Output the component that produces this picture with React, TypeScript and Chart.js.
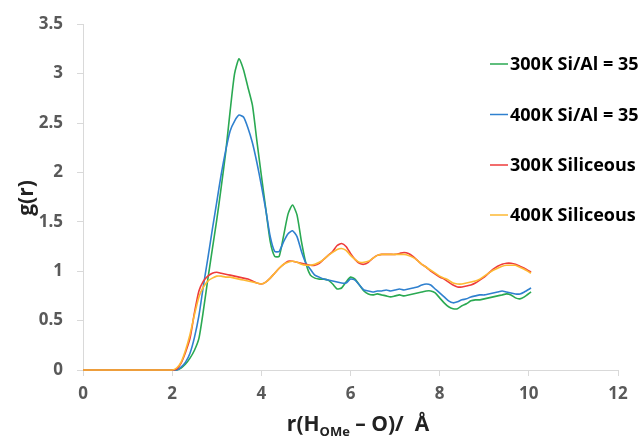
import React, { useEffect, useRef } from 'react';
import { Chart, registerables } from 'chart.js';

Chart.register(...registerables);

// r in Angstrom
const rValues = [
  0, 2.0, 2.1, 2.2, 2.3, 2.4, 2.5, 2.6, 2.7, 2.8, 2.9,
  3.0, 3.1, 3.2, 3.3, 3.4, 3.5, 3.6, 3.7, 3.8, 3.9,
  4.0, 4.1, 4.2, 4.3, 4.4, 4.5, 4.6, 4.7, 4.8, 4.9,
  5.0, 5.1, 5.2, 5.3, 5.4, 5.5, 5.6, 5.7, 5.8, 5.9,
  6.0, 6.1, 6.2, 6.3, 6.4, 6.5, 6.6, 6.7, 6.8, 6.9,
  7.0, 7.1, 7.2, 7.3, 7.4, 7.5, 7.6, 7.7, 7.8, 7.9,
  8.0, 8.1, 8.2, 8.3, 8.4, 8.5, 8.6, 8.7, 8.8, 8.9,
  9.0, 9.1, 9.2, 9.3, 9.4, 9.5, 9.6, 9.7, 9.8, 9.9,
  10.05,
];

const g300KSiAl = [
  0, 0, 0, 0.02, 0.06, 0.12, 0.2, 0.32, 0.6, 0.92, 1.22,
  1.52, 1.85, 2.2, 2.62, 3.0, 3.15, 3.04, 2.86, 2.68, 2.32,
  1.97, 1.63, 1.3, 1.15, 1.15, 1.36, 1.58, 1.67, 1.57, 1.3,
  1.08, 0.96, 0.93, 0.92, 0.92, 0.91, 0.87, 0.82, 0.83, 0.89,
  0.94, 0.92, 0.86, 0.8, 0.77, 0.76, 0.77, 0.76, 0.75, 0.74,
  0.75, 0.76, 0.75, 0.76, 0.77, 0.78, 0.79, 0.8, 0.8, 0.78,
  0.73, 0.68, 0.64, 0.62, 0.62, 0.65, 0.67, 0.7, 0.71, 0.71,
  0.72, 0.73, 0.74, 0.75, 0.76, 0.77, 0.76, 0.73, 0.72, 0.74,
  0.79,
];

const g400KSiAl = [
  0, 0, 0, 0.03, 0.08, 0.17, 0.33, 0.55, 0.85, 1.13, 1.42,
  1.7, 1.98, 2.22, 2.42, 2.52, 2.58, 2.56, 2.45, 2.3, 2.1,
  1.87, 1.62, 1.35, 1.2, 1.2, 1.3, 1.38, 1.41, 1.35, 1.2,
  1.08, 1.02, 0.96, 0.94, 0.92, 0.91, 0.9, 0.89, 0.88, 0.88,
  0.92, 0.91, 0.86, 0.81, 0.8, 0.79, 0.8, 0.8, 0.81, 0.8,
  0.81, 0.82, 0.81, 0.82, 0.83, 0.84, 0.86, 0.87, 0.86, 0.82,
  0.78, 0.74, 0.7, 0.68, 0.69, 0.71, 0.72, 0.74, 0.75, 0.76,
  0.76, 0.77, 0.78, 0.79, 0.8, 0.79, 0.78, 0.77, 0.77, 0.79,
  0.83,
];

const g300KSiliceous = [
  0, 0, 0.01, 0.07, 0.18, 0.32, 0.58, 0.8, 0.9, 0.95, 0.98,
  0.99, 0.98, 0.97, 0.96, 0.95, 0.94, 0.93, 0.92, 0.9, 0.88,
  0.87, 0.89, 0.93, 0.98, 1.03, 1.07, 1.1, 1.1, 1.09, 1.08,
  1.07, 1.06, 1.06, 1.08, 1.12, 1.16, 1.2, 1.26, 1.28, 1.25,
  1.18, 1.12, 1.08, 1.07, 1.09, 1.13, 1.16, 1.17, 1.17, 1.17,
  1.17, 1.18, 1.19, 1.18, 1.15, 1.11, 1.07, 1.04, 1.0, 0.97,
  0.94, 0.92, 0.89, 0.86, 0.84, 0.84, 0.85, 0.86, 0.88, 0.91,
  0.94, 0.98, 1.02, 1.05, 1.07, 1.08, 1.08, 1.07, 1.05, 1.03,
  0.99,
];

const g400KSiliceous = [
  0, 0, 0.02, 0.08, 0.2, 0.36, 0.56, 0.74, 0.84, 0.9, 0.93,
  0.95, 0.95, 0.94, 0.94, 0.93, 0.92, 0.91, 0.9, 0.89, 0.88,
  0.87, 0.89, 0.93, 0.98, 1.03, 1.07, 1.09, 1.1, 1.09, 1.07,
  1.06, 1.06, 1.07, 1.09, 1.12, 1.16, 1.19, 1.22, 1.23, 1.21,
  1.16, 1.12, 1.09, 1.09, 1.1, 1.13, 1.16, 1.17, 1.17, 1.17,
  1.17, 1.17, 1.17, 1.16, 1.14, 1.11, 1.07, 1.04, 1.01, 0.98,
  0.95, 0.93, 0.91, 0.88, 0.87, 0.87, 0.88, 0.89, 0.9, 0.92,
  0.95, 0.98, 1.01, 1.03, 1.05, 1.06, 1.06, 1.06, 1.04, 1.02,
  0.98,
];

const seriesLabels = ['300K Si/Al = 35', '400K Si/Al = 35', '300K Siliceous', '400K Siliceous'];
const seriesColors = ['#2aa952', '#2f80cf', '#ee3b3b', '#fdb933'];
const seriesValues = [g300KSiAl, g400KSiAl, g300KSiliceous, g400KSiliceous];

const yTitle = 'g(r)';
const xTitleMain = 'r(H';
const xTitleSub = 'OMe';
const xTitleEnd = ' \u2013 O)/  \u00C5';

const FONT = '"Open Sans", "DejaVu Sans", sans-serif';

const overlayPlugin = {
  id: 'overlay',
  afterDraw(chart: any) {
    const ctx = chart.ctx as CanvasRenderingContext2D;
    ctx.save();
    // legend
    const rowY = [64, 114.5, 165, 215];
    ctx.font = `bold 18px ${FONT}`;
    ctx.textBaseline = 'middle';
    ctx.textAlign = 'left';
    seriesLabels.forEach((label, i) => {
      ctx.strokeStyle = seriesColors[i];
      ctx.lineWidth = 1.5;
      ctx.beginPath();
      ctx.moveTo(490, rowY[i]);
      ctx.lineTo(508, rowY[i]);
      ctx.stroke();
      ctx.fillStyle = '#000';
      ctx.fillText(label, 510, rowY[i] + 1);
    });

    // y title
    ctx.save();
    ctx.translate(27, 198);
    ctx.rotate(-Math.PI / 2);
    ctx.font = `bold 21px ${FONT}`;
    ctx.textAlign = 'center';
    ctx.textBaseline = 'middle';
    ctx.fillStyle = '#222';
    ctx.fillText(yTitle, 0, 0);
    ctx.restore();

    // x title with subscript
    ctx.fillStyle = '#222';
    ctx.textBaseline = 'alphabetic';
    ctx.textAlign = 'left';
    const mainFont = `bold 21px ${FONT}`;
    const subFont = `bold 13px ${FONT}`;
    ctx.font = mainFont;
    const w1 = ctx.measureText(xTitleMain).width;
    const w3 = ctx.measureText(xTitleEnd).width;
    ctx.font = subFont;
    const w2 = ctx.measureText(xTitleSub).width;
    const total = w1 + w2 + w3;
    let x = 358 - total / 2;
    const base = 431;
    ctx.font = mainFont;
    ctx.fillText(xTitleMain, x, base);
    x += w1;
    ctx.font = subFont;
    ctx.fillText(xTitleSub, x, base + 5);
    x += w2;
    ctx.font = mainFont;
    ctx.fillText(xTitleEnd, x, base);
    ctx.restore();
  },
};

export default function App() {
  const canvasRef = useRef<HTMLCanvasElement | null>(null);

  useEffect(() => {
    document.body.style.margin = '0';
    const canvas = canvasRef.current;
    if (!canvas) return;
    const datasets = seriesLabels.map((label, i) => ({
      label,
      data: rValues.map((r, j) => ({ x: r, y: seriesValues[i][j] })),
      borderColor: seriesColors[i],
      backgroundColor: seriesColors[i],
      borderWidth: 1.6,
      pointRadius: 0,
      tension: 0.2,
      fill: false,
      clip: false,
      order: 4 - i,
    }));

    const chart = new Chart(canvas, {
      type: 'line',
      data: { datasets },
      plugins: [overlayPlugin],
      options: {
        animation: false,
        responsive: false,
        layout: { padding: { top: 20, right: 23, bottom: 0, left: 0 } },
        plugins: {
          legend: { display: false },
          tooltip: { enabled: false },
        },
        scales: {
          x: {
            type: 'linear',
            min: 0,
            max: 12,
            ticks: {
              stepSize: 2,
              color: '#595959',
              font: { family: FONT, size: 17, weight: 'bold' },
              padding: 8,
              maxRotation: 0,
              callback: (v: any) => String(v),
            },
            grid: {
              drawOnChartArea: false,
              drawTicks: true,
              tickLength: 6,
              color: '#d9d9d9',
              tickColor: '#d9d9d9',
            },
            border: { color: '#d9d9d9', width: 1 },
            afterFit: (scale: any) => {
              scale.height = 67;
            },
          },
          y: {
            type: 'linear',
            min: 0,
            max: 3.5,
            ticks: {
              stepSize: 0.5,
              color: '#595959',
              font: { family: FONT, size: 17, weight: 'bold' },
              padding: 14,
              callback: (v: any) => String(v),
            },
            grid: {
              drawOnChartArea: false,
              drawTicks: true,
              tickLength: 6,
              color: '#d9d9d9',
              tickColor: '#d9d9d9',
            },
            border: { color: '#d9d9d9', width: 1 },
            afterFit: (scale: any) => {
              scale.width = 83;
            },
          },
        },
      },
    });
    return () => chart.destroy();
  }, []);

  return (
    <div style={{ width: 641, height: 437, position: 'relative' }}>
      <canvas ref={canvasRef} width={641} height={437} />
    </div>
  );
}
